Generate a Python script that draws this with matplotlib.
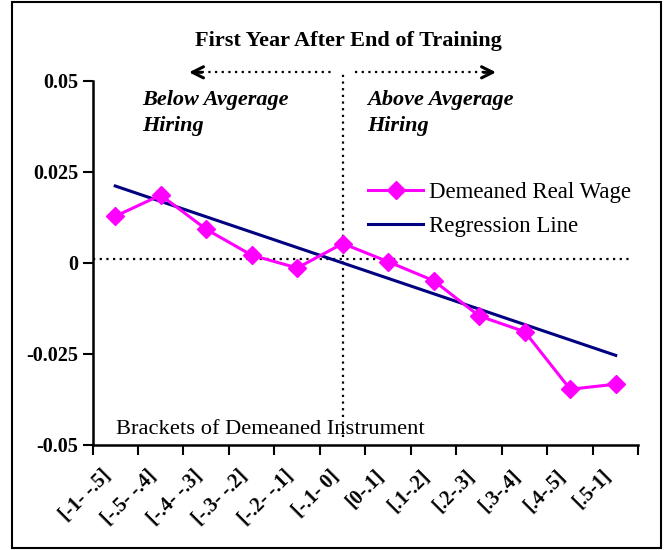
import numpy as np
import matplotlib
matplotlib.use("Agg")
import matplotlib.pyplot as plt
from matplotlib.patches import Rectangle

brackets = ["[-1- -.5]", "[-.5- -.4]", "[-.4- -.3]", "[-.3- -.2]", "[-.2- -.1]", "[-.1- 0]",
            "[0-.1]", "[.1-.2]", "[.2-.3]", "[.3-.4]", "[.4-.5]", "[.5-1]"]
real_wage = [0.0128, 0.0186, 0.0092, 0.0021, -0.0014, 0.0053,
             0.0003, -0.0049, -0.0146, -0.0189, -0.0347, -0.0333]
regression = [0.0211, -0.0254]   # fitted line at first and last bracket
yticks = [-0.05, -0.025, 0, 0.025, 0.05]
ytick_labels = ["-0.05", "-0.025", "0", "0.025", "0.05"]

W, H = 667, 550
plt.rcParams['font.family'] = ['Liberation Serif', 'DejaVu Serif']

fig = plt.figure(figsize=(W / 100, H / 100), dpi=100)
ax = fig.add_axes([92.5 / W, 1 - 445 / H, (638.5 - 92.5) / W, (445 - 80.7) / H])

def fx(px):
    return px / W

def fy(py):
    return 1 - py / H

x = np.arange(len(brackets))
ax.plot(x, real_wage, color='#ff00ff', lw=2.2, marker='D', ms=9,
        label='Demeaned Real Wage', zorder=4)
ax.plot([x[0], x[-1]], regression, color='#000080', lw=2.2,
        label='Regression Line', zorder=3)

# dotted guide lines
dots = (0, (1, 2))
ax.plot([-0.5, 11.36], [0.001, 0.001], color='black', lw=1.6, linestyle=dots, clip_on=False)
ax.plot([5, 5], [-0.0478, 0.0523], color='black', lw=1.6, linestyle=dots, clip_on=False)

# arrows
ax.plot([1.75, 4.81], [0.0523, 0.0523], color='black', lw=1.6, linestyle=dots, clip_on=False)
ax.plot([5.27, 8.22], [0.0523, 0.0523], color='black', lw=1.6, linestyle=dots, clip_on=False)
ax.annotate('', xy=(1.62, 0.0523), xytext=(1.9, 0.0523),
            arrowprops=dict(arrowstyle='->', lw=2.2, color='black', mutation_scale=20,
                            shrinkA=0, shrinkB=0), annotation_clip=False)
ax.annotate('', xy=(8.37, 0.0523), xytext=(8.1, 0.0523),
            arrowprops=dict(arrowstyle='->', lw=2.2, color='black', mutation_scale=20,
                            shrinkA=0, shrinkB=0), annotation_clip=False)

ax.set_xlim(-0.5, 11.5)
ax.set_ylim(-0.05, 0.05)
ax.set_xticks(np.arange(-0.5, 12, 1))
ax.set_xticklabels([])
ax.set_xticks(x, minor=True)
ax.set_xticklabels(brackets, minor=True, rotation=45, ha='right', va='top',
                   fontsize=14.5, fontweight='bold')
ax.tick_params(axis='x', which='minor', length=0, pad=15)
ax.tick_params(axis='x', which='major', length=7, width=1.5, direction='out')
ax.set_yticks(yticks)
ax.set_yticklabels(ytick_labels, fontsize=14.5, fontweight='bold')
ax.tick_params(axis='y', length=7, width=1.5, direction='out', pad=3)

for s in ['top', 'right']:
    ax.spines[s].set_visible(False)
for s in ['left', 'bottom']:
    ax.spines[s].set_linewidth(1.8)

fig.text(fx(348), fy(41), "First Year After End of Training", ha='center', va='center',
         fontsize=16, fontweight='bold')
fig.text(fx(142), fy(113), "Below Avgerage\nHiring", ha='left', va='center',
         fontsize=16, fontweight='bold', style='italic', linespacing=1.38)
fig.text(fx(367), fy(113), "Above Avgerage\nHiring", ha='left', va='center',
         fontsize=16, fontweight='bold', style='italic', linespacing=1.38)
fig.text(fx(116), fy(434), "Brackets of Demeaned Instrument", ha='left', va='baseline',
         fontsize=16.2)

ax.legend(loc='upper left', bbox_to_anchor=(fx(368), fy(182)), bbox_transform=fig.transFigure,
          frameon=False, fontsize=16.5, handlelength=2.4, handletextpad=0.25,
          labelspacing=0.55, borderpad=0, borderaxespad=0)

fig.patches.append(Rectangle((fx(12), fy(548)), fx(661) - fx(12), fy(2) - fy(548),
                             transform=fig.transFigure, fill=False, edgecolor='black', lw=1.5))

fig.savefig('out.png', dpi=100)
